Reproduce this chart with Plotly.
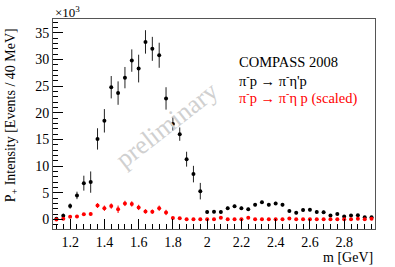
import plotly.graph_objects as go

mass = [round(1.12 + 0.04 * i, 2) for i in range(47)]

etap = [0.1, 0.7, 2.5, 4.5, 6.8, 7.0, 15.1, 18.5, 24.8, 23.7, 26.6, 29.8, 28.3, 33.3, 32.0, 30.8,
        22.7, 17.9, 16.0, 11.3, 8.5, 5.3, 1.4, 1.45, 1.4, 2.1, 2.45, 2.1, 1.9, 2.75, 3.2, 2.75,
        3.0, 2.75, 1.6, 1.25, 1.75, 1.8, 1.4, 1.35, 0.75, 1.0, 0.55, 0.75, 0.8, 0.4, 0.4]
etap_err = [0.2, 0.4, 0.5, 0.7, 1.4, 2.0, 2.0, 2.2, 2.1, 2.2, 2.0, 2.1, 2.6, 2.2, 2.25, 2.35,
            2.1, 1.25, 1.25, 1.4, 1.55, 1.55, 0.3, 0.3, 0.3, 0.3, 0.3, 0.3, 0.3, 0.3, 0.3, 0.3,
            0.3, 0.3, 0.3, 0.3, 0.3, 0.3, 0.3, 0.3, 0.2, 0.2, 0.2, 0.2, 0.2, 0.2, 0.2]

eta = [0.0, 0.1, 0.5, 0.55, 0.95, 1.0, 2.6, 2.1, 2.5, 1.9, 3.0, 2.9, 2.25, 1.5, 1.45, 2.1,
       1.3, 0.25, 0.2, 0.05, 0.05, 0.05, 0.05, 0.05, 0.3, 0.05, 0.05, 0.05, 0.3, 0.05, 0.05, 0.05,
       0.05, 0.05, 0.15, 0.05, 0.05, 0.05, 0.05, 0.05, 0.05, 0.05, 0.05, 0.05, 0.1, 0.05, 0.1]
eta_err = [0.1, 0.1, 0.15, 0.2, 0.25, 0.3, 0.45, 0.5, 0.5, 0.7, 0.5, 0.5, 0.5, 0.4, 0.4, 0.5,
           0.5, 0.15, 0.1, 0.05, 0.05, 0.05, 0.05, 0.05, 0.1, 0.05, 0.05, 0.05, 0.1, 0.05, 0.05, 0.05,
           0.05, 0.05, 0.05, 0.05, 0.05, 0.05, 0.05, 0.05, 0.05, 0.05, 0.05, 0.05, 0.05, 0.05, 0.05]

x_ticks = [1.2, 1.4, 1.6, 1.8, 2.0, 2.2, 2.4, 2.6, 2.8]
x_tick_labels = ["1.2", "1.4", "1.6", "1.8", "2", "2.2", "2.4", "2.6", "2.8"]
y_ticks = [0, 5, 10, 15, 20, 25, 30, 35]

FONT = "'Liberation Serif', 'Times New Roman', serif"

fig = go.Figure()
fig.add_trace(go.Scatter(
    x=mass, y=etap, mode="markers",
    marker=dict(color="black", size=4),
    error_y=dict(type="data", array=etap_err, color="#222", thickness=1, width=0),
    showlegend=False, hoverinfo="skip"))
fig.add_trace(go.Scatter(
    x=mass, y=eta, mode="markers",
    marker=dict(color="#ff0000", size=4),
    error_y=dict(type="data", array=eta_err, color="#ff0000", thickness=1, width=0),
    showlegend=False, hoverinfo="skip"))

fig.update_layout(
    width=395, height=267,
    margin=dict(l=53, r=20, t=19, b=38),
    paper_bgcolor="white", plot_bgcolor="white",
    font=dict(family=FONT, size=14, color="black"),
    xaxis=dict(range=[1.1, 2.98], tickvals=x_ticks, ticktext=x_tick_labels,
               ticks="inside", ticklen=10, tickcolor="black", showline=True, linecolor="#555",
               linewidth=1, mirror=True, showgrid=False, zeroline=False,
               minor=dict(dtick=0.04, tick0=1.2, ticks="inside", ticklen=5, tickcolor="black"),
               tickfont=dict(family=FONT, size=14)),
    yaxis=dict(range=[-1.8, 37.6], tickvals=y_ticks,
               ticks="inside", ticklen=10, tickcolor="black", showline=True, linecolor="#555",
               linewidth=1, mirror=True, showgrid=False, zeroline=False,
               minor=dict(dtick=1, tick0=0, ticks="inside", ticklen=5, tickcolor="black"),
               tickfont=dict(family=FONT, size=14)),
)

leg_x = (237 - 53) / (375 - 53)
annos = [
    dict(text="×10<sup>3</sup>", x=0, y=1, xref="paper", yref="paper", xanchor="left",
         yanchor="bottom", yshift=-3, showarrow=False, font=dict(family=FONT, size=13)),
    dict(text="P<sub>+</sub> Intensity [Events / 40 MeV]", x=-0.13, y=1, xref="paper", yref="paper",
         xanchor="center", yanchor="top", yshift=-7, textangle=-90, showarrow=False,
         font=dict(family=FONT, size=14)),
    dict(text="m [GeV]", x=1, y=0, xref="paper", yref="paper", xanchor="right", yanchor="top",
         yshift=-19, showarrow=False, font=dict(family=FONT, size=14)),
    dict(text="COMPASS 2008", x=leg_x, y=(229 - 62) / 210, xref="paper", yref="paper",
         xanchor="left", yanchor="middle", showarrow=False, font=dict(family=FONT, size=14.5)),
    dict(text="π<sup>-</sup>p → π<sup>-</sup>η'p", x=leg_x, y=(229 - 80) / 210,
         xref="paper", yref="paper", xanchor="left", yanchor="middle",
         showarrow=False, font=dict(family=FONT, size=14.5, color="black")),
    dict(text="π<sup>-</sup>p → π<sup>-</sup>η p (scaled)", x=leg_x, y=(229 - 97) / 210,
         xref="paper", yref="paper", xanchor="left", yanchor="middle",
         showarrow=False, font=dict(family=FONT, size=14.5, color="#ff0000")),
    dict(text="preliminary", x=(166 - 53) / 322, y=(229 - 125) / 210, xref="paper",
         yref="paper", textangle=-38, showarrow=False,
         font=dict(family=FONT, size=26, color="#d0d0d0")),
]
fig.update_layout(annotations=annos)

fig.write_html("out.html", config={"displayModeBar": False},
               post_script="document.body.style.margin='0';")
